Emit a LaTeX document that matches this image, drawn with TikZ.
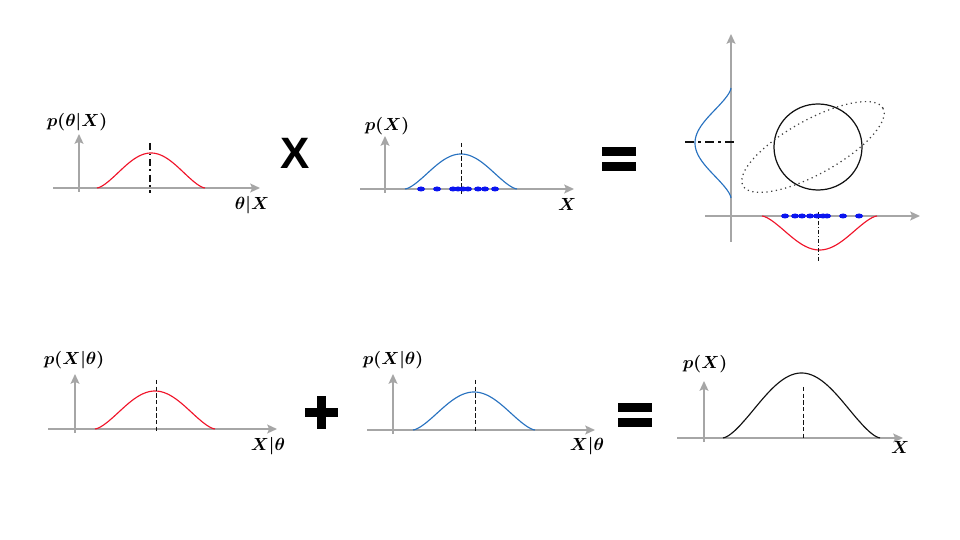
\documentclass[tikz,border=0pt]{standalone}
\usepackage{amsmath,amssymb,bm}
\usepackage{fontspec}
\newfontfamily\opfont{Liberation Sans}
\usetikzlibrary{arrows.meta}
\definecolor{AxisGray}{HTML}{A6A6A6}
\definecolor{CurveRed}{HTML}{F0142A}
\definecolor{CurveBlue}{HTML}{2872C0}
\definecolor{DotBlue}{HTML}{0A14F0}
\definecolor{InkDark}{HTML}{111111}

\begin{document}
\begin{tikzpicture}[x=0.02cm,y=-0.02cm,every node/.style={font=\normalsize\boldmath,text=black,inner sep=0pt},axis/.style={draw=AxisGray,line width=1.1pt,-{Stealth[length=5.5pt,width=5pt,inset=1pt]}},bell/.style={line width=0.65pt,samples=80,smooth},dashdot/.style={draw=InkDark,line width=1.1pt,dash pattern=on 4pt off 2pt on 1pt off 2pt},thindash/.style={draw=InkDark,line width=0.5pt,dash pattern=on 2.5pt off 1.3pt},sample/.style={fill=DotBlue,draw=none},opsign/.style={font=\opfont\bfseries\fontsize{25}{25}\selectfont}]
\useasboundingbox (0,0) rectangle (960,540);
% top row: posterior times evidence
\draw[axis] (53,188)--(260,188); \draw[axis] (79,192)--(79,134);
\draw[bell,CurveRed,domain=97:205] plot (\x,{188-35*pow((1+cos(180*(\x-151)/54))/2+0.0001,0.75)});
\draw[dashdot] (150,143)--(150,193);
\node (postlab) at (77,122){$p(\theta|X)$}; \node (postax) at (252,205){$\theta|X$};
\node[opsign] (times) at (295,153){X};
\draw[axis] (360,189)--(574,189); \draw[axis] (385,193)--(385,136);
\draw[bell,CurveBlue,domain=405:517] plot (\x,{189-35*pow((1+cos(180*(\x-461)/56))/2+0.0001,0.75)});
\draw[thindash] (461,143)--(461,196);
\foreach \d in {421,437,453,458,463,468,478,485,495} \fill[sample] (\d,189) circle[x radius=4,y radius=2.5];
\node (evlab) at (387,126){$p(X)$}; \node (evax) at (567,204){$X$};
\fill (602,147) rectangle (636,156); \fill (602,162) rectangle (636,171);
% joint view
\draw[axis] (705,216)--(920,216); \draw[axis] (731,242)--(731,34);
\draw[bell,CurveBlue,domain=88:198] plot ({731-36*pow((1+cos(180*(\x-143)/55))/2+0.0001,0.75)},\x);
\draw[dashdot,line width=1.3pt,dash pattern=on 5pt off 2.5pt on 1.5pt off 2.5pt] (685,142)--(734,142);
\draw[InkDark,line width=0.7pt] (818,147) circle[x radius=44,y radius=43];
\draw[InkDark!80,line width=0.7pt,dotted] (813,147) circle[x radius=80,y radius=27,rotate=29];
\draw[bell,CurveRed,domain=762:877] plot (\x,{216+34*pow((1+cos(180*(\x-819.5)/57.5))/2+0.0001,0.75)});
\draw[thindash,dash pattern=on 2.5pt off 1pt on 0.6pt off 1pt] (818,212)--(818,261);
\foreach \d in {785,795,802,810,817,823,827,843,859} \fill[sample] (\d,216) circle[x radius=4,y radius=2.5];
% bottom row: likelihood plus likelihood
\draw[axis] (48,429)--(277,429); \draw[axis] (75,433)--(75,374);
\draw[bell,CurveRed,domain=95:215] plot (\x,{429-38*pow((1+cos(180*(\x-155)/60))/2+0.0001,0.75)});
\draw[thindash] (156,380)--(156,432);
\node (likalab) at (74,360){$p(X|\theta)$}; \node (likaax) at (268,446){$X|\theta$};
\fill (305,408) rectangle (338,417); \fill (317,396) rectangle (326,429);
\draw[axis] (367,430)--(595,430); \draw[axis] (393,434)--(393,374);
\draw[bell,CurveBlue,domain=413:535] plot (\x,{430-38*pow((1+cos(180*(\x-474)/61))/2+0.0001,0.75)});
\draw[thindash] (475,380)--(475,432);
\node (likblab) at (393,360){$p(X|\theta)$}; \node (likbax) at (587,446){$X|\theta$};
\fill (618,403) rectangle (652,412); \fill (618,418) rectangle (652,427);
\draw[axis] (677,438)--(903,438); \draw[axis] (704,442)--(704,381);
\draw[bell,InkDark,domain=723:880] plot (\x,{438-65*pow((1+cos(180*(\x-801.5)/78.5))/2+0.0001,0.75)});
\draw[thindash] (803,387)--(803,438);
\node (sumlab) at (705,364){$p(X)$}; \node (sumax) at (900,447){$X$};
\end{tikzpicture}
\end{document}
